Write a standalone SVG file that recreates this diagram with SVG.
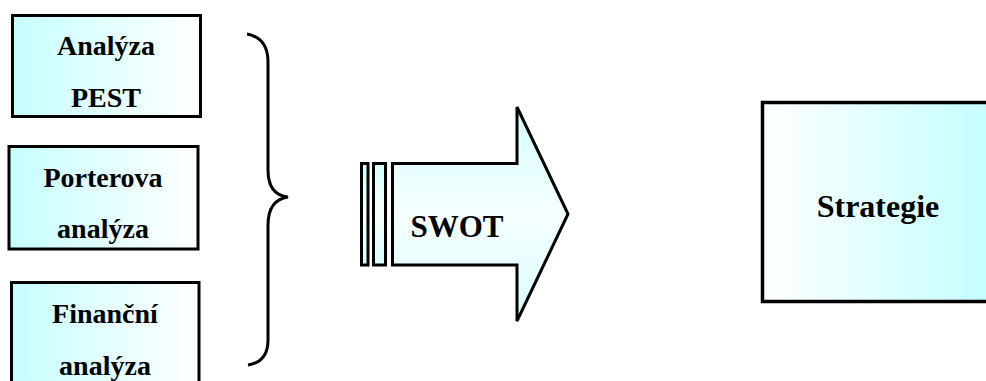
<svg xmlns="http://www.w3.org/2000/svg" width="986" height="381" viewBox="0 0 986 381">
  <defs>
    <linearGradient id="gLeft" x1="0" y1="0" x2="1" y2="0">
      <stop offset="0" stop-color="#c6ffff"/>
      <stop offset="1" stop-color="#ffffff"/>
    </linearGradient>
    <linearGradient id="gRight" x1="0" y1="0" x2="1" y2="0">
      <stop offset="0" stop-color="#ffffff"/>
      <stop offset="1" stop-color="#bfffff"/>
    </linearGradient>
    <linearGradient id="gArrow" x1="0" y1="0" x2="0" y2="1">
      <stop offset="0" stop-color="#d4ffff"/>
      <stop offset="0.5" stop-color="#f6ffff"/>
      <stop offset="1" stop-color="#d8ffff"/>
    </linearGradient>
  </defs>
  <style>
    .box { stroke: #000; stroke-width: 3; }
    .lbl { font-family: "Liberation Serif", "Times New Roman", serif; font-weight: bold; fill: #000; text-anchor: middle; }
    .conn { fill: none; stroke: #000; stroke-width: 3; stroke-linecap: butt; }
  </style>

  <g id="pest">
    <rect class="box" x="12.5" y="15.5" width="188" height="101" fill="url(#gLeft)"/>
    <text class="lbl" x="106" y="55" font-size="28">Analýza</text>
    <text class="lbl" x="106" y="107" font-size="28">PEST</text>
  </g>

  <g id="porter">
    <rect class="box" x="9" y="146.5" width="189" height="102.5" fill="url(#gLeft)"/>
    <text class="lbl" x="103" y="187" font-size="28">Porterova</text>
    <text class="lbl" x="103" y="238" font-size="28">analýza</text>
  </g>

  <g id="financni">
    <rect class="box" x="11.5" y="282.5" width="187.5" height="115" fill="url(#gLeft)"/>
    <text class="lbl" x="105" y="323" font-size="28">Finanční</text>
    <text class="lbl" x="105" y="375" font-size="28">analýza</text>
  </g>

  <g id="connectors">
    <path class="conn" d="M247,34 Q268,38 268,62 L268,170 Q268,195 288,197 Q268,200 268,225 L268,340 Q268,362 248,365"/>
  </g>

  <g id="swot">
    <rect class="box" x="361.5" y="163.5" width="6.5" height="101.5" fill="url(#gArrow)"/>
    <rect class="box" x="373.5" y="163.5" width="12" height="101.5" fill="url(#gArrow)"/>
    <path class="box" d="M392.5,163.5 L517,163.5 L517,107 L568,214 L517,321 L517,265 L392.5,265 Z" fill="url(#gArrow)" stroke-linejoin="miter"/>
    <text class="lbl" x="457" y="237" font-size="31">SWOT</text>
  </g>

  <g id="strategie">
    <rect x="762.5" y="102.5" width="250" height="199" fill="url(#gRight)" stroke="#000" stroke-width="3.5"/>
    <text class="lbl" x="878" y="217" font-size="32">Strategie</text>
  </g>
</svg>
